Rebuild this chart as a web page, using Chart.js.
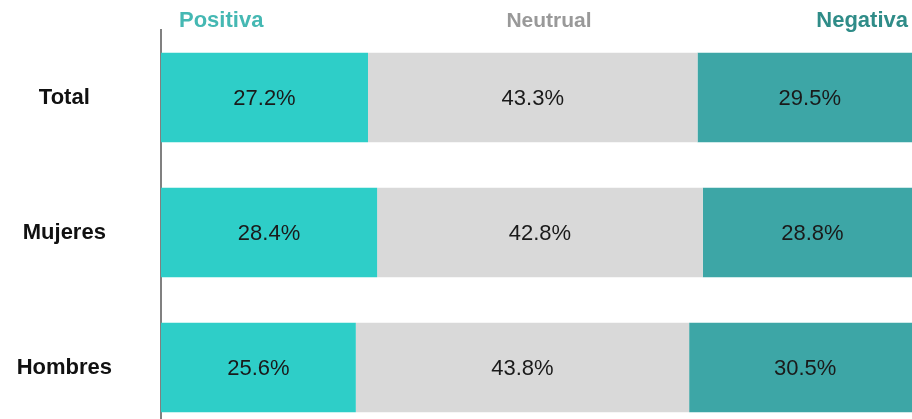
<!DOCTYPE html>
<html>
<head>
<meta charset="utf-8">
<script src="https://cdn.jsdelivr.net/npm/chart.js@4"></script>
<style>
  html, body { margin: 0; padding: 0; background: #fff; }
  #wrap { width: 912px; height: 419px; overflow: hidden; position: relative; }
  canvas { display: block; }
</style>
</head>
<body>
<div id="wrap"><canvas id="myChart" width="922" height="435"></canvas></div>
<script>
const categories = ["Total", "Mujeres", "Hombres"];
const seriesNames = ["Positiva", "Neutrual", "Negativa"];
const positiva = [27.2, 28.4, 25.6];
const neutral = [43.3, 42.8, 43.8];
const negativa = [29.5, 28.8, 30.5];

const barColors = ["#2ECEC8", "#D9D9D9", "#3DA6A6"];
const headerColors = ["#45B8B3", "#999999", "#2F8C88"];

// labels inside each bar segment
const barLabels = {
  id: "barLabels",
  afterDatasetsDraw(chart) {
    const ctx = chart.ctx;
    ctx.save();
    ctx.font = "22px 'Liberation Sans', Arial, sans-serif";
    ctx.fillStyle = "#1a1a1a";
    ctx.textAlign = "center";
    ctx.textBaseline = "middle";
    chart.data.datasets.forEach((ds, i) => {
      chart.getDatasetMeta(i).data.forEach((bar, j) => {
        const x = (bar.x + bar.base) / 2;
        ctx.fillText(ds.data[j].toFixed(1) + "%", x, bar.y + 1);
      });
    });
    ctx.restore();
  },
};

// column headers on top
const headers = {
  id: "headers",
  afterDraw(chart) {
    const ctx = chart.ctx;
    ctx.save();
    ctx.textBaseline = "alphabetic";
    const pos = [
      { x: 179, align: "left", size: 22 },
      { x: 549, align: "center", size: 21 },
      { x: 908, align: "right", size: 22 },
    ];
    seriesNames.forEach((name, i) => {
      ctx.font = "bold " + pos[i].size + "px 'Liberation Sans', Arial, sans-serif";
      ctx.fillStyle = headerColors[i];
      ctx.textAlign = pos[i].align;
      ctx.fillText(name, pos[i].x, 27);
    });
    ctx.restore();
  },
};

const ctx = document.getElementById("myChart");
const myChart = new Chart(ctx, {
  type: "bar",
  data: {
    labels: categories,
    datasets: [
      { label: seriesNames[0], data: positiva, backgroundColor: barColors[0] },
      { label: seriesNames[1], data: neutral, backgroundColor: barColors[1] },
      { label: seriesNames[2], data: negativa, backgroundColor: barColors[2] },
    ],
  },
  options: {
    indexAxis: "y",
    responsive: false,
    animation: false,
    devicePixelRatio: 1,
    barPercentage: 0.663,
    categoryPercentage: 1,
    layout: { padding: { top: 30, right: 0, bottom: 0, left: 0 } },
    plugins: {
      legend: { display: false },
      tooltip: { enabled: false },
    },
    scales: {
      x: {
        stacked: true,
        min: 0,
        max: 100,
        display: false,
      },
      y: {
        stacked: true,
        grid: { display: true, drawOnChartArea: false, drawTicks: false },
        border: { display: true, color: "#808080", width: 2 },
        ticks: {
          padding: 49,
          crossAlign: "center",
          color: "#111111",
          font: { family: "'Liberation Sans', Arial, sans-serif", size: 22, weight: "bold" },
        },
        afterFit(scale) {
          scale.width = 161;
          scale.paddingTop = 0;
          scale.paddingBottom = 0;
        },
      },
    },
  },
  plugins: [barLabels, headers],
});
</script>
</body>
</html>
